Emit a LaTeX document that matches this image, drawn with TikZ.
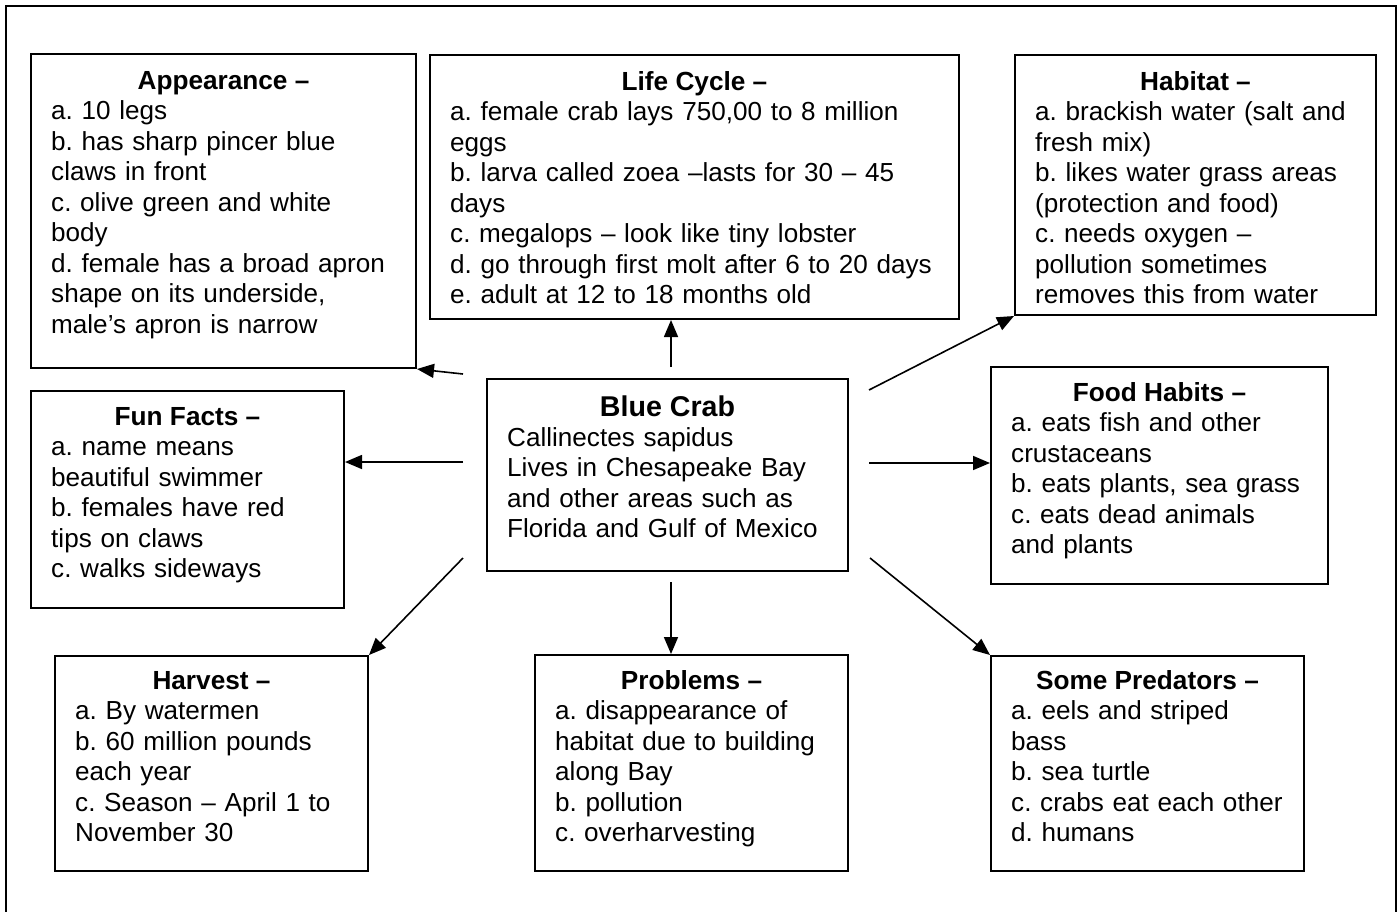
\documentclass[tikz,border=0pt]{standalone}
\usepackage{fontspec}
\setmainfont{Liberation Sans}
\usetikzlibrary{arrows.meta}
\frenchspacing
\tikzset{
  box/.style={draw, line width=2pt, rectangle, inner sep=0pt, anchor=north west},
  ttl/.style={anchor=base, inner sep=0pt, font=\fontsize{26.2}{30.5}\selectfont\bfseries},
  bigttl/.style={anchor=base, inner sep=0pt, font=\fontsize{28.6}{30.5}\selectfont\bfseries},
  body/.style={anchor=base west, inner sep=0pt, align=left, font=\fontsize{26.1}{30.5}\selectfont\frenchspacing},
  arr/.style={line width=1.6pt, -{Triangle[length=17pt,width=14pt]}},
  frame/.style={line width=2pt}
}
\begin{document}
\begin{tikzpicture}[x=1pt,y=-1pt]
\useasboundingbox (0,0) rectangle (1399,911);
% outer frame (bottom edge cut off)
\draw[frame] (6,915) -- (6,6) -- (1396,6) -- (1396,915);

% boxes
\node[box, minimum width=385pt, minimum height=314pt] (app)  at (30,53) {};
\node[box, minimum width=529pt, minimum height=264pt] (life) at (429,54) {};
\node[box, minimum width=361pt, minimum height=260pt] (hab)  at (1014,54) {};
\node[box, minimum width=313pt, minimum height=217pt] (fun)  at (30,390) {};
\node[box, minimum width=361pt, minimum height=192pt] (crab) at (486,378) {};
\node[box, minimum width=337pt, minimum height=217pt] (food) at (990,366) {};
\node[box, minimum width=313pt, minimum height=215pt] (harv) at (54,655) {};
\node[box, minimum width=313pt, minimum height=216pt] (prob) at (534,654) {};
\node[box, minimum width=313pt, minimum height=215pt] (pred) at (990,655) {};

% titles
\node[ttl] (appT)  at ([yshift=-36pt]app.north)  {Appearance –};
\node[ttl] (lifeT) at ([yshift=-36pt]life.north) {Life Cycle –};
\node[ttl] (habT)  at ([yshift=-36pt]hab.north)  {Habitat –};
\node[ttl] (funT)  at ([yshift=-35pt]fun.north)  {Fun Facts –};
\node[bigttl] (crabT) at ([yshift=-38pt]crab.north) {Blue Crab};
\node[ttl] (foodT) at ([yshift=-35pt]food.north) {Food Habits –};
\node[ttl] (harvT) at ([yshift=-34pt]harv.north) {Harvest –};
\node[ttl] (probT) at ([yshift=-35pt]prob.north) {Problems –};
\node[ttl] (predT) at ([yshift=-34pt]pred.north) {Some Predators –};

% body texts
\node[body, text width=370pt] (appB) at ([xshift=21pt,yshift=-66.5pt]app.north west)
  {a. 10 legs\\b. has sharp pincer blue\\claws in front\\c. olive green and white\\body\\d. female has a broad apron\\shape on its underside,\\male’s apron is narrow};
\node[body, text width=510pt] (lifeB) at ([xshift=21pt,yshift=-66.5pt]life.north west)
  {a. female crab lays 750,00 to 8 million\\eggs\\b. larva called zoea –lasts for 30 – 45\\days\\c. megalops – look like tiny lobster\\d. go through first molt after 6 to 20 days\\e. adult at 12 to 18 months old};
\node[body, text width=345pt] (habB) at ([xshift=21pt,yshift=-66.5pt]hab.north west)
  {a. brackish water (salt and\\fresh mix)\\b. likes water grass areas\\(protection and food)\\c. needs oxygen –\\pollution sometimes\\removes this from water};
\node[body, text width=300pt] (funB) at ([xshift=21pt,yshift=-65.5pt]fun.north west)
  {a. name means\\beautiful swimmer\\b. females have red\\tips on claws\\c. walks sideways};
\node[body, text width=345pt] (crabB) at ([xshift=21pt,yshift=-68pt]crab.north west)
  {Callinectes sapidus\\Lives in Chesapeake Bay\\and other areas such as\\Florida and Gulf of Mexico};
\node[body, text width=320pt] (foodB) at ([xshift=21pt,yshift=-65.5pt]food.north west)
  {a. eats fish and other\\crustaceans\\b. eats plants, sea grass\\c. eats dead animals\\and plants};
\node[body, text width=300pt] (harvB) at ([xshift=21pt,yshift=-64.5pt]harv.north west)
  {a. By watermen\\b. 60 million pounds\\each year\\c. Season – April 1 to\\November 30};
\node[body, text width=300pt] (probB) at ([xshift=21pt,yshift=-65.5pt]prob.north west)
  {a. disappearance of\\habitat due to building\\along Bay\\b. pollution\\c. overharvesting};
\node[body, text width=300pt] (predB) at ([xshift=21pt,yshift=-64.5pt]pred.north west)
  {a. eels and striped\\bass\\b. sea turtle\\c. crabs eat each other\\d. humans};

% connector start points around the central box
\coordinate (cUL) at (463,374);
\coordinate (cU)  at (671,367);
\coordinate (cUR) at (869,390);
\coordinate (cL)  at (463,462);
\coordinate (cR)  at (869,463);
\coordinate (cDL) at (463,558);
\coordinate (cD)  at (671,582);
\coordinate (cDR) at (870,558);

\draw[arr] (cUL) -- (app.south east);
\draw[arr] (cU)  -- (cU |- life.south);
\draw[arr] (cUR) -- (hab.south west);
\draw[arr] (cL)  -- (cL -| fun.east);
\draw[arr] (cR)  -- (cR -| food.west);
\draw[arr] (cDL) -- (harv.north east);
\draw[arr] (cD)  -- (cD |- prob.north);
\draw[arr] (cDR) -- (pred.north west);
\end{tikzpicture}
\end{document}
